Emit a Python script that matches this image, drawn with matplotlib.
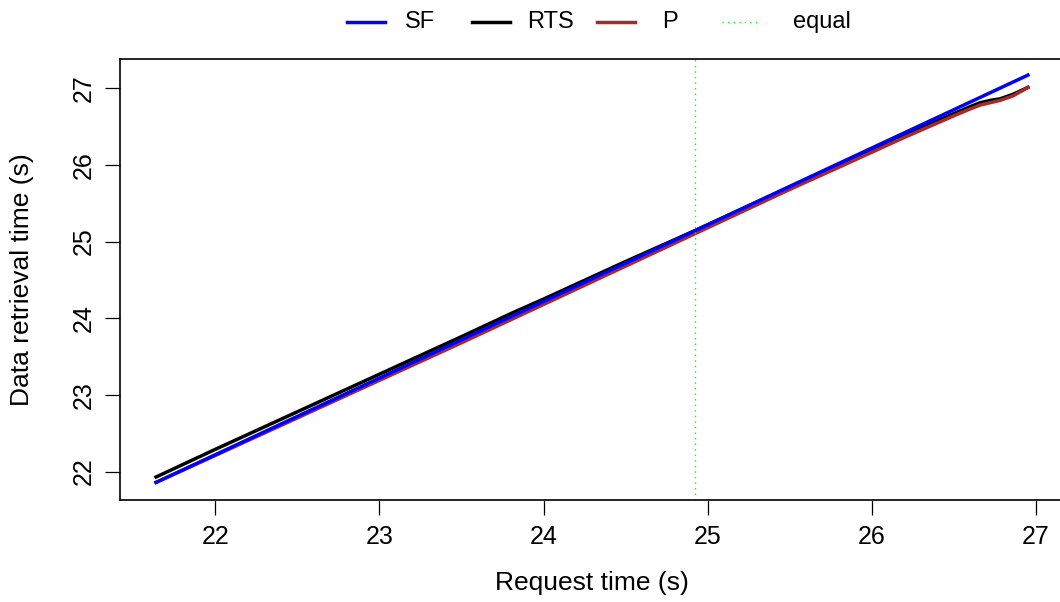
import matplotlib
matplotlib.use("Agg")
import matplotlib.pyplot as plt
from matplotlib.lines import Line2D

plt.rcParams['font.family'] = ['Liberation Sans', 'DejaVu Sans']

# request time (s)
req_time = [21.63, 22.0, 22.5, 23.0, 23.5, 23.8, 24.0, 24.5, 24.92, 25.5, 25.8,
            26.2, 26.5, 26.6, 26.66, 26.72, 26.78, 26.86, 26.96]
# data retrieval time (s) for each method
sf = [21.85, 22.22, 22.72, 23.22, 23.72, 24.02, 24.22, 24.72, 25.14, 25.72, 26.02,
      26.42, 26.72, 26.82, 26.88, 26.94, 27.00, 27.08, 27.18]
rts = [21.92, 22.29, 22.78, 23.27, 23.76, 24.06, 24.25, 24.74, 25.14, 25.71, 26.00,
       26.39, 26.67, 26.76, 26.81, 26.84, 26.86, 26.92, 27.02]
p = [21.85, 22.21, 22.70, 23.19, 23.68, 23.98, 24.18, 24.68, 25.10, 25.68, 25.97,
     26.36, 26.64, 26.73, 26.78, 26.81, 26.84, 26.90, 27.02]
equal_time = 24.92

x_ticks = [22, 23, 24, 25, 26, 27]
y_ticks = [22, 23, 24, 25, 26, 27]

W, H = 1060, 602
fig = plt.figure(figsize=(W / 100, H / 100), dpi=100)
ax = fig.add_axes([120 / W, 102 / H, 944 / W, 441 / H])

ax.plot(req_time, rts, color='black', lw=2.5, solid_capstyle='butt')
ax.plot(req_time, p, color='#A52A2A', lw=2.5, solid_capstyle='butt')
ax.plot(req_time, sf, color='#0000FF', lw=2.5, solid_capstyle='butt')
ax.axvline(equal_time, color='#00FF00', lw=1, linestyle=(0, (1, 3)))

ax.set_xlim(21.42, 27.17)
ax.set_ylim(21.63, 27.38)
ax.set_xticks(x_ticks)
ax.set_yticks(y_ticks)
ax.tick_params(direction='out', length=10.8, width=0.9, labelsize=18, pad=7)
for lab in ax.get_yticklabels():
    lab.set_rotation(90)
    lab.set_va('center')
for sp in ax.spines.values():
    sp.set_linewidth(1.2)

ax.set_xlabel('Request time (s)', fontsize=19)
ax.set_ylabel('Data retrieval time (s)', fontsize=19)
ax.xaxis.set_label_coords(0.5, (500 - 583) / 441)
ax.xaxis.label.set_va('center')
ax.yaxis.set_label_coords((22 - 120) / 944, 0.5)
ax.yaxis.label.set_va('center')

# legend along the top, outside the plot
leg_labels = ['SF', 'RTS', 'P', 'equal']
leg_colors = ['#0000FF', 'black', '#A52A2A', '#00FF00']
leg_styles = ['-', '-', '-', (0, (1, 3))]
leg_widths = [2.5, 2.5, 2.5, 1]
leg_text_x = [405, 527, 662, 793]
y_leg = 1 - 22 / H
for i, lab in enumerate(leg_labels):
    x0 = 347 + 125 * i
    fig.add_artist(Line2D([x0 / W, (x0 + 38) / W], [y_leg, y_leg],
                          color=leg_colors[i], lw=leg_widths[i],
                          linestyle=leg_styles[i]))
    fig.text(leg_text_x[i] / W, y_leg, lab, fontsize=17, va='center', ha='left')

fig.savefig('out.png', dpi=100)
